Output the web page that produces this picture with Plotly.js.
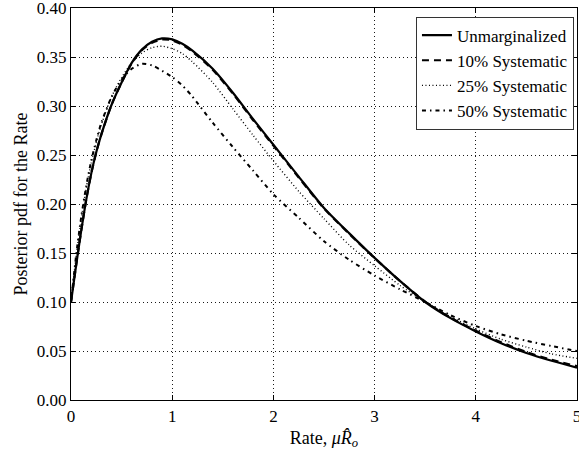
<!DOCTYPE html>
<html>
<head>
<meta charset="utf-8">
<script src="https://cdn.plot.ly/plotly-3.0.1.min.js"></script>
<style>html,body{margin:0;padding:0;background:#fff;}#chart{width:579px;height:456px;}</style>
</head>
<body>
<div id="chart"></div>
<script>
const rate = [0, 0.05, 0.1, 0.15, 0.2, 0.25, 0.3, 0.4, 0.5, 0.6, 0.7, 0.8, 0.9, 1.0, 1.1, 1.2, 1.4, 1.6, 1.8, 2.0, 2.25, 2.5, 2.75, 3.0, 3.25, 3.5, 3.75, 4.0, 4.25, 4.5, 4.75, 5.0];
const unmarginalized = [0.100, 0.137, 0.172, 0.204, 0.231, 0.253, 0.271, 0.301, 0.324, 0.344, 0.3575, 0.3655, 0.369, 0.368, 0.3635, 0.3565, 0.338, 0.3135, 0.2865, 0.2605, 0.228, 0.196, 0.170, 0.145, 0.1215, 0.100, 0.0835, 0.070, 0.058, 0.048, 0.040, 0.033];
const sys10 = [0.100, 0.137, 0.172, 0.204, 0.231, 0.253, 0.271, 0.301, 0.324, 0.3435, 0.357, 0.3645, 0.368, 0.367, 0.3625, 0.3555, 0.337, 0.3125, 0.2855, 0.2595, 0.227, 0.1955, 0.1695, 0.1448, 0.1215, 0.1003, 0.084, 0.0708, 0.059, 0.049, 0.041, 0.0345];
const sys25 = [0.100, 0.146, 0.184, 0.216, 0.242, 0.263, 0.281, 0.309, 0.329, 0.344, 0.354, 0.3595, 0.361, 0.3585, 0.3535, 0.345, 0.324, 0.297, 0.270, 0.244, 0.213, 0.185, 0.158, 0.137, 0.117, 0.100, 0.085, 0.0725, 0.062, 0.054, 0.047, 0.0425];
const sys50 = [0.100, 0.147, 0.186, 0.218, 0.244, 0.265, 0.283, 0.309, 0.327, 0.338, 0.343, 0.3415, 0.336, 0.3295, 0.321, 0.3095, 0.283, 0.258, 0.234, 0.210, 0.186, 0.162, 0.143, 0.127, 0.113, 0.100, 0.0865, 0.0755, 0.067, 0.0605, 0.055, 0.050];
const seriesNames = ["Unmarginalized", "10% Systematic", "25% Systematic", "50% Systematic"];
const xTicks = [0, 1, 2, 3, 4, 5];
const yTicks = [0, 0.05, 0.10, 0.15, 0.20, 0.25, 0.30, 0.35, 0.40];

const serif = "Liberation Serif, Times New Roman, serif";
const traces = [
  {x: rate, y: unmarginalized, name: seriesNames[0], mode: "lines", line: {color: "#000", width: 2.2, shape: "spline", smoothing: 0.7}},
  {x: rate, y: sys10, name: seriesNames[1], mode: "lines", line: {color: "#000", width: 2.2, dash: "7px,5px", shape: "spline", smoothing: 0.7}},
  {x: rate, y: sys25, name: seriesNames[2], mode: "lines", line: {color: "#000", width: 1.4, dash: "1px,2.5px", shape: "spline", smoothing: 0.7}},
  {x: rate, y: sys50, name: seriesNames[3], mode: "lines", line: {color: "#000", width: 2, dash: "4px,4px,1.5px,4px", shape: "spline", smoothing: 0.7}}
];

const axisCommon = {
  showline: true, linecolor: "#000", linewidth: 1.2, mirror: "allticks",
  ticks: "inside", ticklen: 5, tickwidth: 1, tickcolor: "#000",
  showgrid: true, gridcolor: "#000", griddash: "1px,3px", gridwidth: 0.9,
  zeroline: false, tickfont: {family: serif, size: 17, color: "#000"},
  ticklabeloverflow: "allow"
};

const layout = {
  width: 579, height: 456,
  margin: {l: 71, r: 2, t: 8, b: 56},
  paper_bgcolor: "#fff", plot_bgcolor: "#fff",
  showlegend: true,
  xaxis: Object.assign({}, axisCommon, {
    range: [0, 5], tickvals: xTicks, ticktext: xTicks.map(String),
    title: {text: "Rate, <i>μR̂</i><sub><i>o</i></sub>", font: {family: serif, size: 18, color: "#000"}, standoff: 6}
  }),
  yaxis: Object.assign({}, axisCommon, {
    range: [0, 0.4], tickvals: yTicks, ticktext: yTicks.map(v => v.toFixed(2)),
    title: {text: "Posterior pdf for the Rate", font: {family: serif, size: 18, color: "#000"}, standoff: 4}
  }),
  legend: {
    x: 0.994, y: 0.978, xanchor: "right", yanchor: "top",
    bgcolor: "#fff", bordercolor: "#333", borderwidth: 1,
    font: {family: serif, size: 17, color: "#000"},
    tracegroupgap: 0
  }
};

Plotly.newPlot("chart", traces, layout, {displayModeBar: false, staticPlot: true});
</script>
</body>
</html>
